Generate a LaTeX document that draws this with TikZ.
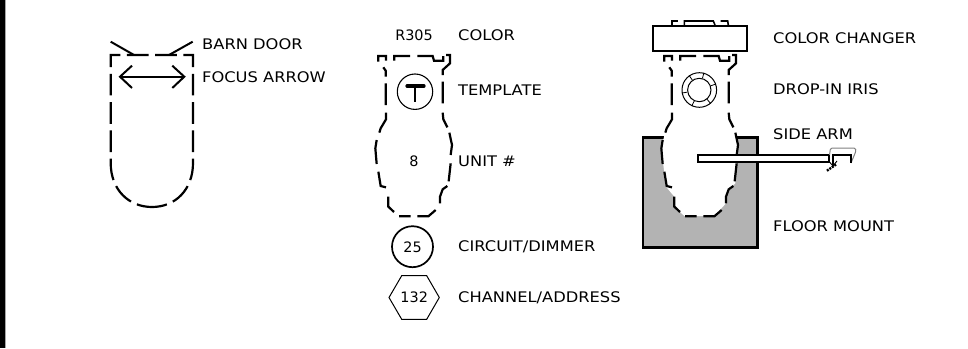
\documentclass[tikz,border=0pt]{standalone}
\usepackage{fontspec}
\setmainfont{DejaVu Sans}
\newfontfamily\lblfont{DejaVu Sans}[FakeStretch=1.115]
\definecolor{mountgray}{HTML}{B3B3B3}
\newcommand{\unitoutline}{(55,108) -- (78,108) -- (78,300) -- (60,325) -- (46,385) -- (60,500) -- (85,530) -- (85,560) -- (115,588) -- (205,588) -- (240,550) -- (245,510) -- (268,490) -- (275,370) -- (250,295) -- (248,150) -- (270,125) -- (270,105) -- (218,108) -- cycle}
\newcommand{\unitdashes}{
  (55,125) -- (55,108) -- (78,108) -- (78,122)
  (70,142) -- (77,152) -- (77,170)
  (77,190) -- (77,255)
  (78,278) -- (78,298) -- (62,325) -- (58,338)
  (50,360) -- (46,385) -- (50,432)
  (55,455) -- (62,498) -- (78,502)
  (85,530) -- (85,560) -- (102,576)
  (117,589) -- (152,589)
  (172,589) -- (205,589) -- (227,570)
  (240,550) -- (240,530) -- (248,508) -- (262,498)
  (266,484) -- (272,430)
  (272,405) -- (276,375) -- (268,338)
  (262,322) -- (250,298) -- (248,278)
  (248,250) -- (248,185)
  (248,165) -- (248,150) -- (270,130) -- (270,105) -- (258,105)
  (172,108) -- (218,108) -- (222,122) -- (250,122) -- (250,108)
  (103,122) -- (103,108) -- (150,108)
}
\tikzset{
  lbl/.style={anchor=west,inner sep=0pt,font=\lblfont\fontsize{14.6}{16}\selectfont,text height=10.6pt,text depth=0pt},
  num/.style={anchor=center,inner sep=0pt,font=\fontsize{14.4}{16}\selectfont,text height=10.6pt,text depth=0pt},
  dashline/.style={line width=2.2pt,dash pattern=on 21.7pt off 6.6pt,dash phase=25pt,line join=miter},
  unitdash/.style={line width=2.2pt,line join=miter},
  solid2/.style={line width=2pt},
  unitscope/.style={x=0.33333pt,y=-0.33333pt}
}
\begin{document}
\begin{tikzpicture}[x=1pt,y=-1pt]
\useasboundingbox (0,0) rectangle (968,348);
\fill[black] (0,0) rectangle (5,348);
\fill[black!35] (5,0) rectangle (6,348);

% fixture 1
\draw[dashline] (151.85,55) -- (193,55) -- (193,163) .. controls (193,190) and (175,207) .. (152,207);
\draw[dashline] (151.85,55) -- (110.7,55) -- (110.7,163) .. controls (110.7,190) and (129,207) .. (152,207);
\coordinate (d1a) at (110.7,41.7); \coordinate (d1b) at (134,55);
\coordinate (d2a) at (192.7,41.7); \coordinate (d2b) at (169,55);
\draw[solid2] (d1a) -- (d1b);
\draw[solid2] (d2a) -- (d2b);
\coordinate (fa) at (120,76.7); \coordinate (fb) at (184.3,76.7);
\draw[solid2] (fa) -- (fb);
\draw[solid2] (132,65.7) -- (fa) -- (132,88);
\draw[solid2] (172.3,65.7) -- (fb) -- (172.3,88);

% fixture 2
\begin{scope}[shift={(360,20)},unitscope]
\draw[unitdash] \unitdashes;
\end{scope}
\node[num] (r305) at (414,35) {R305};
\node[num] (eight) at (414,161) {8};
\node[draw,circle,line width=1.1pt,minimum size=35.4pt,inner sep=0pt] (tmpl) at (415,91.7) {};
\draw[line width=3.2pt,line cap=round] (407,86) -- (424,86);
\draw[line width=2.4pt] (415,86) -- (415,102);
\node[draw,circle,line width=1.7pt,minimum size=41pt,inner sep=0pt,num] (circ) at (412.5,246.7) {25};
\node[num] (hexa) at (414.2,297.5) {132};
\draw[line width=1pt] (401.7,275.7) -- (426.7,275.7) -- (439.3,297.5) -- (426.7,319.3) -- (401.7,319.3) -- (389,297.5) -- cycle;

% fixture 3
\draw[black,line width=2.4pt,fill=mountgray] (642.7,137.3) rectangle (757.3,247.3);
\begin{scope}[shift={(646,20)},unitscope]
\fill[white] \unitoutline;
\draw[unitdash] \unitdashes;
\end{scope}
\node[draw,line width=2pt,fill=white,minimum width=93.4pt,minimum height=25.3pt,inner sep=0pt] (changer) at (700,38.3) {};
\draw[line width=1.6pt] (671.7,25) -- (671.7,21) -- (677.5,21);
\draw[line width=1.6pt] (684.3,25) -- (684.3,21) -- (713.3,21) -- (715,25);
\draw[line width=1.6pt] (720.7,21) -- (727.7,21) -- (728.3,25);
\node[draw,circle,line width=1pt,minimum size=34.6pt,inner sep=0pt] (irisout) at (699.3,90) {};
\node[draw,circle,line width=1pt,minimum size=23.4pt,inner sep=0pt] (irisin) at (699.3,90) {};
\foreach \a in {20,75,125,190,245,310} \draw[line width=0.8pt] (irisin.\a) -- (irisout.\a);
\node[draw,line width=1.8pt,fill=white,minimum width=130.7pt,minimum height=7.3pt,inner sep=0pt] (arm) at (763.7,158.7) {};
\draw[line width=1pt,gray,rounded corners=1.5pt] (829.5,155) -- (830.5,148) -- (855.5,148) -- (856,151) -- (851,163);
\draw[line width=1.5pt] (829.3,155) -- (829.3,161);
\draw[line width=1.5pt] (833,165) -- (833,155) -- (851,155) -- (851,163);
\draw[line width=0.9pt] (829.5,162) -- (833,166) -- (837,161);
\draw[line width=2.4pt,dash pattern=on 2pt off 1pt] (836,164.5) -- (826.5,171);

% labels
\node[lbl] (l1) at (202,44) {BARN DOOR};
\node[lbl] (l2) at (202,77) {FOCUS ARROW};
\node[lbl] (l3) at (458,35) {COLOR};
\node[lbl] (l4) at (458,90) {TEMPLATE};
\node[lbl] (l5) at (458,161) {UNIT \#};
\node[lbl] (l6) at (458,246) {CIRCUIT/DIMMER};
\node[lbl] (l7) at (458,297) {CHANNEL/ADDRESS};
\node[lbl] (l8) at (773,38) {COLOR CHANGER};
\node[lbl] (l9) at (773,89) {DROP-IN IRIS};
\node[lbl] (l10) at (773,134) {SIDE ARM};
\node[lbl] (l11) at (773,226) {FLOOR MOUNT};
\end{tikzpicture}
\end{document}
